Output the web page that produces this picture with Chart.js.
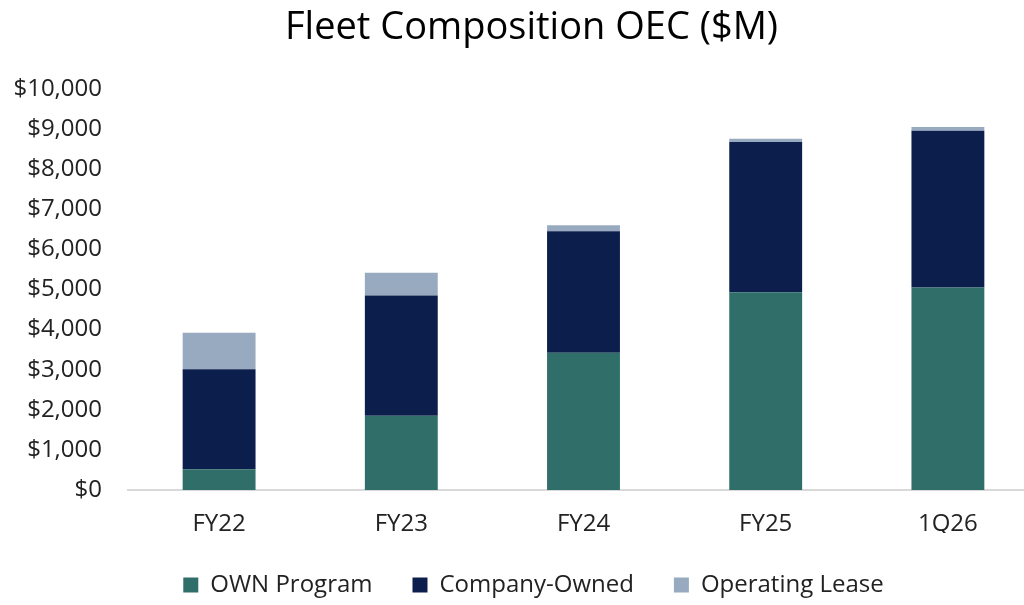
<!DOCTYPE html>
<html>
<head>
<meta charset="utf-8">
<script src="https://cdn.jsdelivr.net/npm/chart.js@4"></script>
<style>
  html, body { margin: 0; padding: 0; background: #fff; overflow: hidden; }
  /* plot runs past the right edge in the reference, so the canvas is wider than the window */
  #wrap { width: 1039px; height: 605px; }
</style>
</head>
<body>
<div id="wrap"><canvas id="c"></canvas></div>
<script>
// values ($M OEC)
const categories = ["FY22", "FY23", "FY24", "FY25", "1Q26"];
const ownProgram = [520, 1850, 3420, 4930, 5050];
const companyOwned = [2490, 3000, 3030, 3750, 3910];
const operatingLease = [910, 570, 150, 80, 90];
const yTicks = [0, 1000, 2000, 3000, 4000, 5000, 6000, 7000, 8000, 9000, 10000];

const FONT = "'Open Sans', sans-serif";
const money = v => "$" + v.toLocaleString("en-US");

// title and legend sit a bit right of the plot-area centre in the reference
const shiftBlocks = {
  id: "shiftBlocks",
  afterLayout(chart) {
    const move = (b, dx) => { if (b) { b.left += dx; b.right += dx; } };
    move(chart.titleBlock, 12);
    move(chart.legend, 14);
  },
};

new Chart(document.getElementById("c"), {
  type: "bar",
  data: {
    labels: categories,
    datasets: [
      { label: "OWN Program", data: ownProgram, backgroundColor: "#2f6e69" },
      { label: "Company-Owned", data: companyOwned, backgroundColor: "#0c1e4c" },
      { label: "Operating Lease", data: operatingLease, backgroundColor: "#97aabf" },
    ].map(d => Object.assign(d, { barPercentage: 0.8, categoryPercentage: 0.5, borderWidth: 0 })),
  },
  plugins: [shiftBlocks],
  options: {
    responsive: true, maintainAspectRatio: false, animation: false,
    layout: { padding: { left: 0, right: 0, top: 0, bottom: -2 } },
    plugins: {
      title: {
        display: true, text: "Fleet Composition OEC ($M)", color: "#000",
        font: { family: FONT, size: 38, weight: "normal" }, padding: { top: 5.5, bottom: 37.9 },
      },
      legend: {
        position: "bottom",
        labels: { color: "#222", boxWidth: 15, boxHeight: 15, padding: 40, font: { family: FONT, size: 24 } },
      },
      tooltip: { callbacks: { label: c => `${c.dataset.label}: ${money(c.raw)}` } },
    },
    scales: {
      x: {
        stacked: true,
        afterFit: ax => { ax.height = 43; },
        grid: { display: false, drawTicks: false },
        border: { color: "#d9d9d9", width: 2 },
        ticks: { color: "#222", padding: 20, font: { family: FONT, size: 24 } },
      },
      y: {
        stacked: true, min: 0, max: 10000,
        afterBuildTicks: ax => { ax.ticks = yTicks.map(v => ({ value: v })); },
        afterFit: ax => { ax.width = 128; },
        grid: { display: false, drawTicks: false },
        border: { display: false },
        ticks: { color: "#222", padding: 26, callback: v => money(v), font: { family: FONT, size: 24 } },
      },
    },
  },
});
</script>
</body>
</html>
